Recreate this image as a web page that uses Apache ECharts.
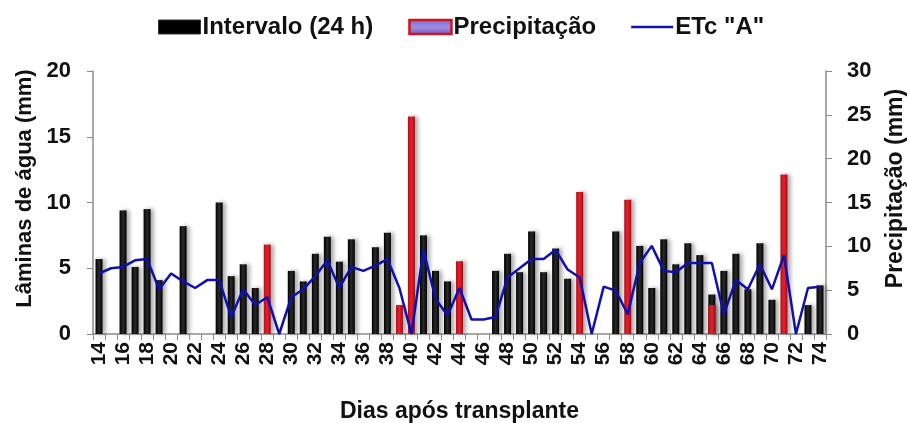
<!DOCTYPE html>
<html>
<head>
<meta charset="utf-8">
<script src="https://cdn.jsdelivr.net/npm/echarts@6/dist/echarts.min.js"></script>
<style>html,body{margin:0;padding:0;background:#fff;}#c{width:907px;height:423px;}</style>
</head>
<body>
<div id="c"></div>
<script>
const days = [];
for (let d = 14; d <= 74; d++) days.push(String(d));

// Intervalo (24 h) - mm, left axis
const intervalo = [5.7, null, 9.4, 5.1, 9.5, 4.1, null, 8.2, null, null,
  10.0, 4.4, 5.3, 3.5, null, null, 4.8, 4.0, 6.1, 7.4,
  5.5, 7.2, null, 6.6, 7.7, null, null, 7.5, 4.8, 4.0,
  null, null, null, 4.8, 6.1, 4.7, 7.8, 4.7, 6.5, 4.2,
  null, null, null, 7.8, null, 6.7, 3.5, 7.2, 5.3, 6.9,
  6.0, 3.0, 4.8, 6.1, 3.4, 6.9, 2.6, null, null, 2.2, 3.7];

// Precipitação - mm, right axis
const precipDays = ['28', '39', '40', '44', '54', '58', '65', '71'];
const precipVals = [10.2, 3.3, 24.8, 8.3, 16.2, 15.3, 3.3, 18.2];

// ETc "A" - mm, left axis
const etc = [4.6, 5.0, 5.1, 5.6, 5.7, 3.4, 4.6, 4.0, 3.5, 4.1,
  4.1, 1.3, 3.4, 2.2, 2.8, 0, 2.8, 3.4, 4.4, 5.6,
  3.5, 5.1, 4.8, 5.2, 5.7, 3.5, 0, 6.4, 2.7, 1.4,
  3.5, 1.1, 1.1, 1.3, 4.3, 5.0, 5.7, 5.7, 6.4, 4.9,
  4.3, 0, 3.6, 3.3, 1.5, 5.4, 6.7, 4.8, 4.7, 5.4,
  5.4, 5.4, 1.5, 4.1, 3.4, 5.3, 3.4, 6.0, 0, 3.5, 3.6];

const leftTicks = [0, 5, 10, 15, 20];
const rightTicks = [0, 5, 10, 15, 20, 25, 30];

const precip = days.map(d => {
  const i = precipDays.indexOf(d);
  return i >= 0 ? precipVals[i] : null;
});

const FONT = '"Liberation Sans", Arial, sans-serif';
const TXT = '#111';

const chart = echarts.init(document.getElementById('c'), null, {renderer: 'canvas'});
chart.setOption({
  animation: false,
  backgroundColor: '#fff',
  textStyle: {fontFamily: FONT},
  legend: {
    top: 15, left: 158, padding: 0, itemGap: 35, itemWidth: 42, itemHeight: 14,
    textStyle: {fontFamily: FONT, fontWeight: 'bold', fontSize: 24, color: TXT, padding: [0, 0, 0, -3]},
    data: [
      {name: 'Intervalo (24 h)', icon: 'rect', itemStyle: {color: '#000', borderColor: '#333', borderWidth: 1}},
      {name: 'Precipitação', icon: 'rect', itemStyle: {color: new echarts.graphic.LinearGradient(0,0,0,1,[{offset:0,color:'#6a6ad8'},{offset:0.5,color:'#a08ce0'},{offset:1,color:'#6a5ac8'}]), borderColor: '#d0141e', borderWidth: 2.5}},
      {name: 'ETc "A"', icon: 'path://M0,0 L40,0 L40,2.2 L0,2.2 Z', itemStyle: {color: '#1010b0'}}
    ]
  },
  grid: {left: 93, right: 81, top: 71, bottom: 89, containLabel: false, outerBoundsMode: 'none'},
  xAxis: {
    type: 'category', data: days, boundaryGap: true,
    name: 'Dias após transplante', nameLocation: 'middle', nameGap: 66,
    nameTextStyle: {fontFamily: FONT, fontWeight: 'bold', fontSize: 23, color: TXT},
    axisLine: {lineStyle: {color: '#8c8c8c', width: 1.5}},
    axisTick: {show: true, interval: 0, length: 6, lineStyle: {color: '#8c8c8c'}},
    axisLabel: {interval: 1, rotate: 90, margin: 8, fontFamily: FONT, fontWeight: 'bold', fontSize: 21, color: TXT}
  },
  yAxis: [
    {
      type: 'value', min: 0, max: 20, interval: 5,
      name: 'Lâminas de água (mm)', nameLocation: 'middle', nameGap: 56,
      nameTextStyle: {fontFamily: FONT, fontWeight: 'bold', fontSize: 22, color: TXT, padding: [0, 0, 0, 28]},
      axisLine: {show: true, lineStyle: {color: '#8c8c8c', width: 1.5}},
      axisTick: {show: true, length: 6, lineStyle: {color: '#8c8c8c'}},
      splitLine: {show: false},
      axisLabel: {margin: 22, fontFamily: FONT, fontWeight: 'bold', fontSize: 22, color: TXT,
        formatter: v => leftTicks.includes(v) ? String(v) : ''}
    },
    {
      type: 'value', min: 0, max: 30, interval: 5, position: 'right',
      name: 'Precipitação (mm)', nameLocation: 'middle', nameGap: 58,
      nameTextStyle: {fontFamily: FONT, fontWeight: 'bold', fontSize: 23, color: TXT, padding: [0, 0, 0, 28]},
      axisLine: {show: true, lineStyle: {color: '#8c8c8c', width: 1.5}},
      axisTick: {show: true, length: 6, lineStyle: {color: '#8c8c8c'}},
      splitLine: {show: false},
      axisLabel: {margin: 21, fontFamily: FONT, fontWeight: 'bold', fontSize: 22, color: TXT,
        formatter: v => rightTicks.includes(v) ? String(v) : ''}
    }
  ],
  series: [
    {
      name: 'Intervalo (24 h)', type: 'bar', yAxisIndex: 0, data: intervalo,
      barWidth: 7, barGap: '-100%',
      itemStyle: {color: new echarts.graphic.LinearGradient(0,0,1,0,[{offset:0,color:'#000'},{offset:0.5,color:'#2a2a2a'},{offset:1,color:'#000'}]),
        shadowColor: 'rgba(0,0,0,0.35)', shadowBlur: 4, shadowOffsetX: 3, shadowOffsetY: 0}
    },
    {
      name: 'Precipitação', type: 'bar', yAxisIndex: 1, data: precip,
      barWidth: 7, barGap: '-100%',
      itemStyle: {color: new echarts.graphic.LinearGradient(0,0,1,0,[{offset:0,color:'#b0101a'},{offset:0.5,color:'#e8202c'},{offset:1,color:'#a00c16'}]),
        shadowColor: 'rgba(0,0,0,0.35)', shadowBlur: 4, shadowOffsetX: 3, shadowOffsetY: 0}
    },
    {
      name: 'ETc "A"', type: 'line', yAxisIndex: 0, data: etc,
      symbol: 'none', lineStyle: {color: '#1010b0', width: 2.5}, itemStyle: {color: '#1010b0'}
    }
  ]
});
</script>
</body>
</html>
